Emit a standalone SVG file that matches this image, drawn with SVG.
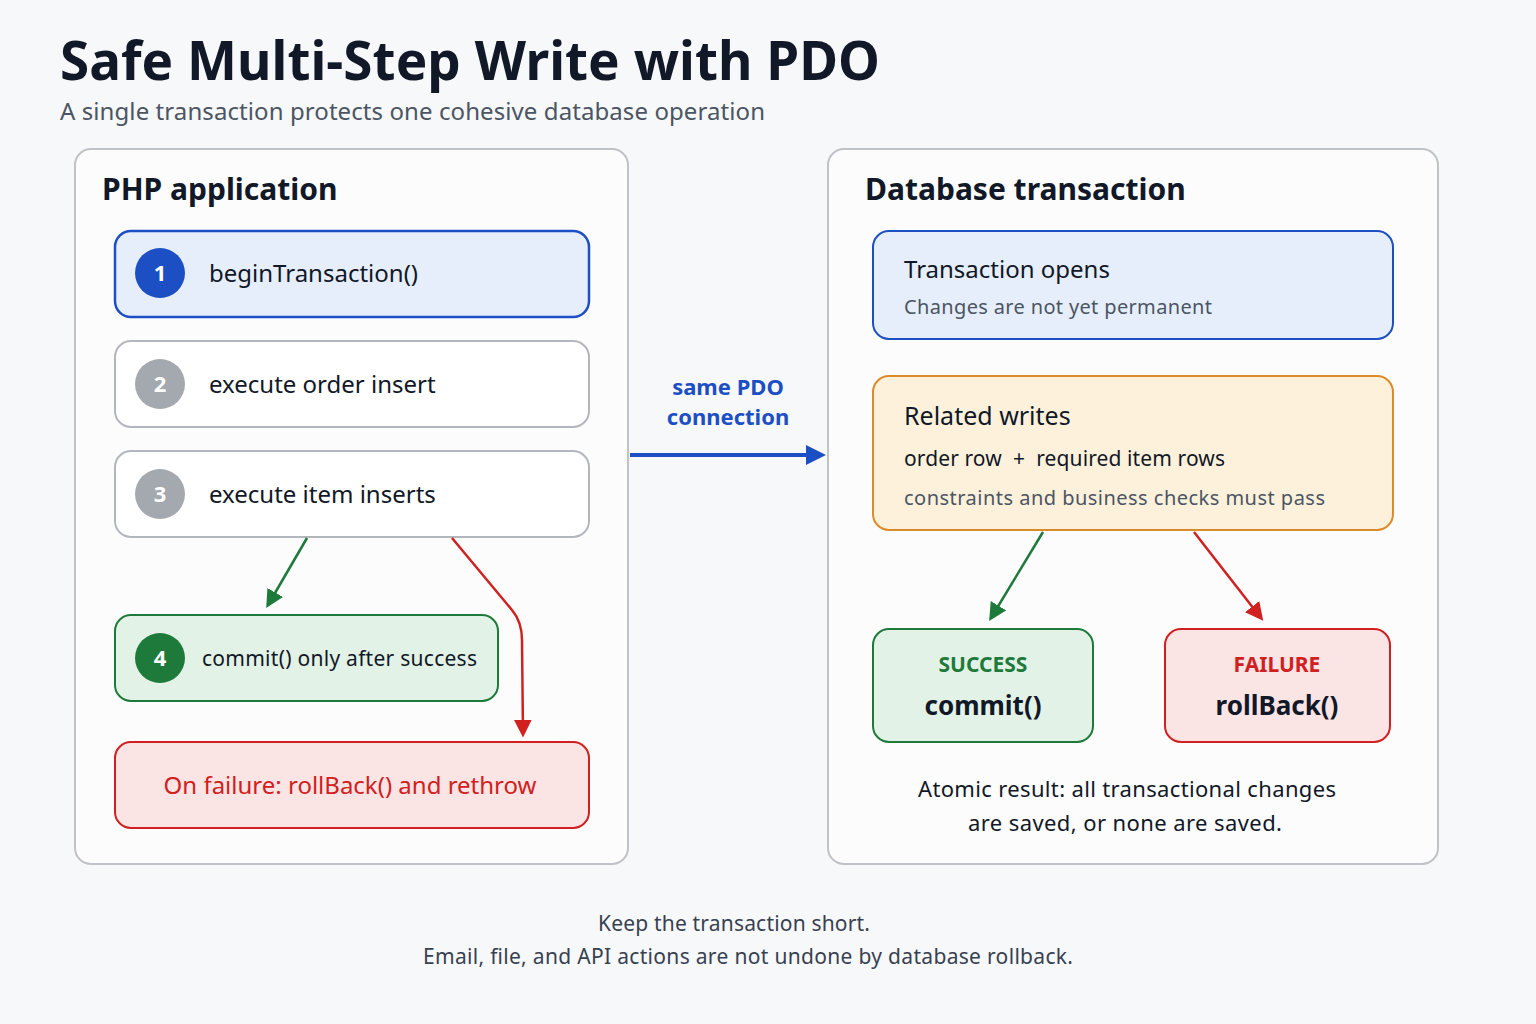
<svg xmlns="http://www.w3.org/2000/svg" width="1536" height="1024" viewBox="0 0 1536 1024">
<style>
text{font-family:"Noto Sans","Open Sans",sans-serif;fill:#111827}
.panel{fill:#fcfcfc;stroke:#bfc2c7;stroke-width:2}
.ph{font-size:30px;font-weight:700}
.step{font-size:24px}
.num{font-size:22px;font-weight:700;fill:#fff;text-anchor:middle}
.wbox{fill:#fff;stroke:#b3b7bd;stroke-width:2}
.c{text-anchor:middle}
</style>
<defs>
<marker id="ag" viewBox="0 0 10 10" refX="8" refY="5" markerWidth="18" markerHeight="18" orient="auto" markerUnits="userSpaceOnUse"><path d="M0,0L10,5L0,10z" fill="#1e7a3a"/></marker>
<marker id="ar" viewBox="0 0 10 10" refX="8" refY="5" markerWidth="18" markerHeight="18" orient="auto" markerUnits="userSpaceOnUse"><path d="M0,0L10,5L0,10z" fill="#d02020"/></marker>
<marker id="ab2" viewBox="0 0 10 10" refX="8" refY="5" markerWidth="20" markerHeight="20" orient="auto" markerUnits="userSpaceOnUse"><path d="M0,0L10,5L0,10z" fill="#1d4fc4"/></marker>
</defs>
<rect width="1536" height="1024" fill="#f7f8f9"/>
<text x="60" y="80" style="font-size:53px;font-weight:700" textLength="820">Safe Multi-Step Write with PDO</text>
<text x="60" y="120" style="font-size:24px;fill:#4b5563" textLength="705">A single transaction protects one cohesive database operation</text>

<g id="php-app">
<rect class="panel" x="75" y="149" width="553" height="715" rx="16"/>
<text class="ph" x="102" y="200">PHP application</text>
</g>
<g id="step1"><rect x="115" y="231" width="474" height="86" rx="16" fill="#e6eefb" stroke="#1d4fc4" stroke-width="2.5"/><circle cx="160" cy="273" r="25" fill="#1d4fc4"/><text class="num" x="160" y="281">1</text><text class="step" x="209" y="282">beginTransaction()</text></g>
<g id="step2"><rect class="wbox" x="115" y="341" width="474" height="86" rx="16"/><circle cx="160" cy="384" r="25" fill="#a4a8af"/><text class="num" x="160" y="392">2</text><text class="step" x="209" y="393">execute order insert</text></g>
<g id="step3"><rect class="wbox" x="115" y="451" width="474" height="86" rx="16"/><circle cx="160" cy="494" r="25" fill="#a4a8af"/><text class="num" x="160" y="502">3</text><text class="step" x="209" y="503">execute item inserts</text></g>
<g id="step4"><rect x="115" y="615" width="383" height="86" rx="16" fill="#e3f2e6" stroke="#1e7a3a" stroke-width="2"/><circle cx="160" cy="658" r="25" fill="#1e7a3a"/><text class="num" x="160" y="666">4</text><text x="202" y="666" style="font-size:21px" textLength="275">commit() only after success</text></g>
<g id="fail-left"><rect x="115" y="742" width="474" height="86" rx="16" fill="#fbe4e4" stroke="#d02020" stroke-width="2"/><text class="c" x="350" y="794" style="font-size:24px;fill:#d02020">On failure: rollBack() and rethrow</text></g>

<g id="db-tx">
<rect class="panel" x="828" y="149" width="610" height="715" rx="16"/>
<text class="ph" x="865" y="200">Database transaction</text>
</g>
<g id="tx-open"><rect x="873" y="231" width="520" height="108" rx="16" fill="#e6eefb" stroke="#1d4fc4" stroke-width="2"/><text x="904" y="278" style="font-size:24px">Transaction opens</text><text x="904" y="314" style="font-size:20px;fill:#4b5563" textLength="308">Changes are not yet permanent</text></g>
<g id="writes"><rect x="873" y="376" width="520" height="154" rx="16" fill="#fdf1dc" stroke="#dd8a2a" stroke-width="2"/><text x="904" y="425" style="font-size:25px">Related writes</text><text x="904" y="466" style="font-size:21px" xml:space="preserve" textLength="321">order row  +  required item rows</text><text x="904" y="505" style="font-size:20px;fill:#4b5563" textLength="421">constraints and business checks must pass</text></g>
<g id="success"><rect x="873" y="629" width="220" height="113" rx="16" fill="#e3f2e6" stroke="#1e7a3a" stroke-width="2"/><text class="c" x="983" y="672" style="font-size:21px;font-weight:700;fill:#1e7a3a">SUCCESS</text><text class="c" x="983" y="715" style="font-size:26px;font-weight:700">commit()</text></g>
<g id="failure"><rect x="1165" y="629" width="225" height="113" rx="16" fill="#fbe4e4" stroke="#d02020" stroke-width="2"/><text class="c" x="1277" y="672" style="font-size:21px;font-weight:700;fill:#d02020">FAILURE</text><text class="c" x="1277" y="715" style="font-size:26px;font-weight:700">rollBack()</text></g>
<text class="c" x="1127" y="797" style="font-size:22px" textLength="418">Atomic result: all transactional changes</text>
<text class="c" x="1125" y="831" style="font-size:22px" textLength="314">are saved, or none are saved.</text>

<g id="connectors" fill="none" stroke-width="2.5">
<path d="M307,538L268,605" stroke="#1e7a3a" marker-end="url(#ag)"/>
<path d="M452,538L512,610Q522,622 522,640L523,734" stroke="#d02020" marker-end="url(#ar)"/>
<path d="M630,455L822,455" stroke="#1d4fc4" stroke-width="4" marker-end="url(#ab2)"/>
<path d="M1043,532L991,618" stroke="#1e7a3a" marker-end="url(#ag)"/>
<path d="M1194,532L1261,618" stroke="#d02020" marker-end="url(#ar)"/>
</g>
<text class="c" x="728" y="395" style="font-size:22px;font-weight:700;fill:#1d4fc4">same PDO</text>
<text class="c" x="728" y="425" style="font-size:22px;font-weight:700;fill:#1d4fc4">connection</text>

<text class="c" x="734" y="931" style="font-size:21px;fill:#374151" textLength="272">Keep the transaction short.</text>
<text class="c" x="748" y="964" style="font-size:21px;fill:#374151" textLength="650">Email, file, and API actions are not undone by database rollback.</text>
</svg>
